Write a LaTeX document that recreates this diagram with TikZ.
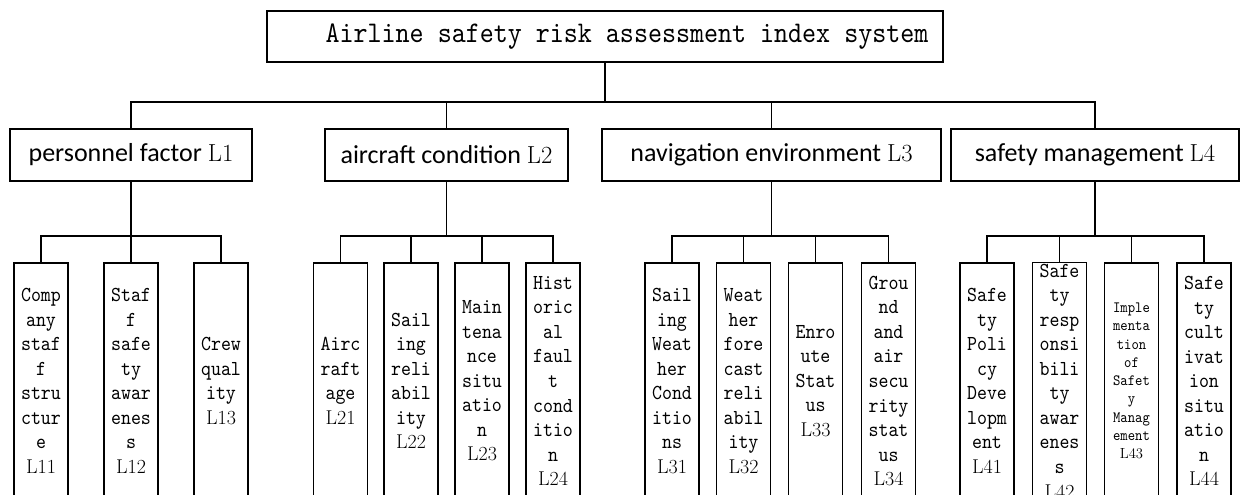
\documentclass[tikz,border=0pt]{standalone}
\usepackage{fontspec}
\newfontfamily\simfont[FakeStretch=0.89]{lmmono10-regular.otf}
\newfontfamily\calfont{Carlito}
\usepackage{tikz}
\newcommand{\catid}[1]{{\rmfamily\fontsize{18.5}{22}\selectfont #1}}
\newcommand{\itemid}[1]{{\rmfamily\fontsize{15}{18.4}\selectfont #1}}

\begin{document}
\begin{tikzpicture}[x=0.75pt,y=0.75pt,yscale=-1,xscale=1,line width=0.9pt,
  rootbox/.style={draw,inner sep=2pt,minimum width=507pt,minimum height=38.25pt,font=\fontsize{22.5}{28}\selectfont\simfont},
  catbox/.style={draw,inner sep=2pt,minimum height=39pt,font=\fontsize{19.5}{22}\selectfont\calfont},
  itembox/.style={draw,inner sep=1pt,align=center,minimum width=40.5pt,minimum height=177pt,font=\fontsize{16}{18.4}\selectfont\simfont}]
\useasboundingbox (0,0) rectangle (1240,495);
\clip (0,0) rectangle (1240,495);

% Root
\node [rootbox] (root) at (605,36.5) {\hspace*{33pt}Airline safety risk assessment index system};

% Level 1
\node [catbox,minimum width=181.5pt] (l1) at (131,155) {personnel factor \catid{L1}};
\node [catbox,minimum width=182.25pt] (l2) at (446.5,155) {aircraft condition \catid{L2}};
\node [catbox,minimum width=254.25pt] (l3) at (771.5,155) {navigation environment \catid{L3}};
\node [catbox,minimum width=216pt] (l4) at (1095,155) {safety management \catid{L4}};

\coordinate (bus) at (605,102);
\draw (root.south) -- (bus);
\draw (bus) -| (l1.north);
\draw (bus) -| (l2.north);
\draw (bus) -| (l3.north);
\draw (bus) -| (l4.north);

% Level 2: personnel factor
\node [itembox] (l11) at (41,381) {Comp\\any\\staf\\f\\stru\\ctur\\e\\\itemid{L11}};
\node [itembox] (l12) at (131,381) {Staf\\f\\safe\\ty\\awar\\enes\\s\\\itemid{L12}};
\node [itembox] (l13) at (221,381) {Crew\\qual\\ity\\\itemid{L13}};

\coordinate (j1) at (131,236);
\draw (l1.south) -- (j1);
\draw (j1) -| (l11.north);
\draw (j1) -| (l12.north);
\draw (j1) -| (l13.north);

% Level 2: aircraft condition
\node [itembox] (l21) at (340.5,381) {Airc\\raft\\age\\\itemid{L21}};
\node [itembox] (l22) at (411,381) {Sail\\ing\\reli\\abil\\ity\\\itemid{L22}};
\node [itembox] (l23) at (482,381) {Main\\tena\\nce\\situ\\atio\\n\\\itemid{L23}};
\node [itembox] (l24) at (553,381) {Hist\\oric\\al\\faul\\t\\cond\\itio\\n\\\itemid{L24}};

\coordinate (j2) at (446.5,236);
\draw (l2.south) -- (j2);
\draw (j2) -| (l21.north);
\draw (j2) -| (l22.north);
\draw (j2) -| (l23.north);
\draw (j2) -| (l24.north);

% Level 2: navigation environment
\node [itembox] (l31) at (672,381) {Sail\\ing\\Weat\\her\\Cond\\itio\\ns\\\itemid{L31}};
\node [itembox] (l32) at (743.5,381) {Weat\\her\\fore\\cast\\reli\\abil\\ity\\\itemid{L32}};
\node [itembox] (l33) at (815.5,381) {Enro\\ute\\Stat\\us\\\itemid{L33}};
\node [itembox] (l34) at (888.5,381) {Grou\\nd\\and\\air\\secu\\rity\\stat\\us\\\itemid{L34}};

\coordinate (j3) at (771.5,236);
\draw (l3.south) -- (j3);
\draw (j3) -| (l31.north);
\draw (j3) -| (l32.north);
\draw (j3) -| (l33.north);
\draw (j3) -| (l34.north);

% Level 2: safety management
\node [itembox] (l41) at (987,381) {Safe\\ty\\Poli\\cy\\Deve\\lopm\\ent\\\itemid{L41}};
\node [itembox] (l42) at (1059.5,381) {Safe\\ty\\resp\\onsi\\bili\\ty\\awar\\enes\\s\\\itemid{L42}};
\node [itembox,font=\fontsize{11.8}{13.7}\selectfont\simfont] (l43) at (1131.5,381) {Imple\\menta\\tion\\of\\Safet\\y\\Manag\\ement\\{\rmfamily\fontsize{11}{13.7}\selectfont L43}};
\node [itembox] (l44) at (1204,381) {Safe\\ty\\cult\\ivat\\ion\\situ\\atio\\n\\\itemid{L44}};

\coordinate (j4) at (1095,236);
\draw (l4.south) -- (j4);
\draw (j4) -| (l41.north);
\draw (j4) -| (l42.north);
\draw (j4) -| (l43.north);
\draw (j4) -| (l44.north);

\end{tikzpicture}
\end{document}
